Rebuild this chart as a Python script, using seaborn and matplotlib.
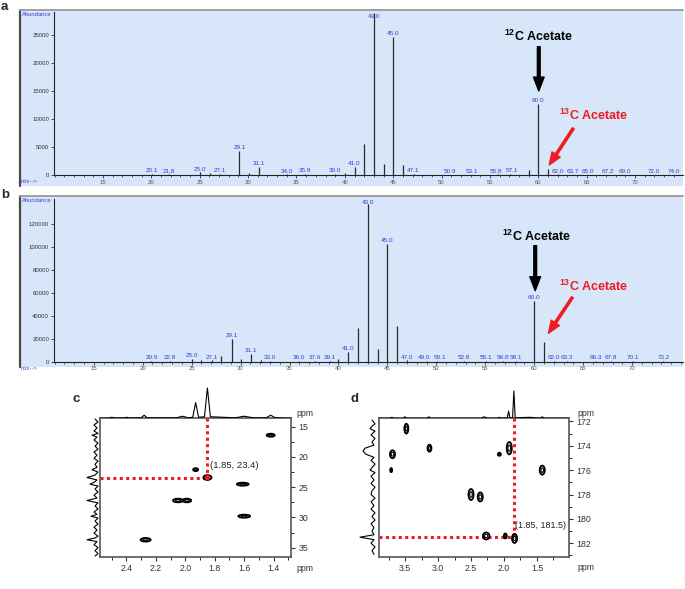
import matplotlib
matplotlib.use("Agg")
import matplotlib.pyplot as plt
import seaborn as sns
import pandas as pd
from matplotlib.patches import Ellipse, Rectangle
from matplotlib.lines import Line2D
from matplotlib.ticker import MultipleLocator, FormatStrFormatter

# ---------------- data ----------------
# Panel a: GC-MS spectrum (m/z, abundance, peak label)
a_mz = [20.1, 21.8, 25.0, 26.1, 27.1, 29.1, 30.1, 31.1, 34.0, 35.9,
        39.0, 40.0, 41.0, 42.0, 43.0, 44.0, 45.0, 46.0, 47.1, 50.9,
        53.1, 55.8, 57.1, 59.0, 60.0, 61.0, 62.0, 63.7, 65.0, 67.2,
        69.0, 72.0, 74.0]
a_ab = [150, 100, 450, 350, 250, 4300, 300, 1450, 100, 120,
        200, 400, 1430, 5540, 28900, 1960, 24640, 1790, 150, 80,
        80, 100, 150, 890, 12680, 1070, 100, 80, 80, 80,
        80, 80, 80]
a_lab = ['20.1', '21.8', '25.0', '', '27.1', '29.1', '', '31.1', '34.0', '35.9',
         '39.0', '', '41.0', '', '43.0', '', '45.0', '', '47.1', '50.9',
         '53.1', '55.8', '57.1', '', '60.0', '', '62.0', '63.7', '65.0', '67.2',
         '69.0', '72.0', '74.0']
a_yticks = [0, 5000, 10000, 15000, 20000, 25000]

# Panel b
b_mz = [20.9, 22.8, 25.0, 26.0, 27.1, 28.0, 29.1, 30.0, 31.1, 32.1,
        33.0, 36.0, 37.6, 39.1, 40.0, 41.0, 42.0, 43.0, 44.0, 45.0,
        46.0, 47.0, 49.0, 50.1, 52.8, 55.1, 56.8, 58.1, 60.0, 61.0,
        62.0, 63.3, 66.3, 67.8, 70.1, 73.2]
b_ab = [500, 500, 2500, 1500, 1000, 4400, 19500, 2000, 7000, 1500,
        600, 600, 400, 600, 2500, 8500, 29000, 138000, 10700, 103000,
        30800, 1000, 400, 400, 400, 400, 400, 400, 53300, 17500,
        600, 400, 400, 400, 400, 400]
b_lab = ['20.9', '22.8', '25.0', '', '27.1', '', '29.1', '', '31.1', '',
         '33.0', '36.0', '37.6', '39.1', '', '41.0', '', '43.0', '', '45.0',
         '', '47.0', '49.0', '50.1', '52.8', '55.1', '56.8', '58.1', '60.0', '',
         '62.0', '63.3', '66.3', '67.8', '70.1', '73.2']
b_yticks = [0, 20000, 40000, 60000, 80000, 100000, 120000]
mz_ticks = [15, 20, 25, 30, 35, 40, 45, 50, 55, 60, 65, 70]

# Panel c: 2D NMR cross peaks (1H ppm, 13C ppm, width, height in ppm)
c_x = [1.42, 1.93, 1.85, 1.61, 2.05, 1.99, 1.60, 2.27]
c_y = [16.4, 22.1, 23.4, 24.5, 27.2, 27.2, 29.8, 33.7]
c_dx = [0.055, 0.034, 0.055, 0.080, 0.068, 0.060, 0.080, 0.068]
c_dy = [0.5, 0.5, 0.8, 0.5, 0.6, 0.6, 0.5, 0.6]
c_cross = (1.85, 23.4)
c_top_ppm = [2.58, 2.52, 2.50, 2.48, 2.42, 2.40, 2.38, 2.30, 2.28, 2.26,
             2.06, 2.02, 1.98, 1.95, 1.93, 1.91, 1.87, 1.85, 1.83, 1.66,
             1.60, 1.54, 1.45, 1.42, 1.39, 1.28]
c_top_int = [0, 0.3, 1, 0.3, 0.3, 1, 0.3, 0.5, 3, 0.5,
             0.5, 2, 0.5, 1, 15, 1, 1.5, 29, 1.5, 0.5,
             2, 0.5, 0.5, 3, 0.5, 0]
c_left_ppm = [13.7, 14.2, 14.7, 15.2, 15.7, 16.1, 16.4, 16.7, 17.2, 17.7,
              18.2, 18.7, 19.2, 19.7, 20.2, 20.7, 21.2, 21.7, 22.1, 22.5,
              23.0, 23.4, 23.8, 24.2, 24.5, 24.8, 25.3, 25.8, 26.3, 26.8,
              27.2, 27.6, 28.1, 28.6, 29.1, 29.5, 29.8, 30.1, 30.6, 31.1,
              31.6, 32.1, 32.6, 33.1, 33.4, 33.7, 34.0, 34.5, 35.0, 35.5,
              36.0, 36.4]
c_left_int = [1, -2, 2, -1, 2, -2, 4, -1, 2, -2,
              1, -2, 2, -1, 2, -2, 1, -1, 4, -2,
              1, 9, -1, 2, 6, -2, 1, -2, 2, -1,
              9, -2, 1, -2, 2, -1, 5, -2, 1, -2,
              2, -1, 2, -2, 1, 9, -1, 2, -2, 1,
              -2, 1]

# Panel d
d_x = [3.48, 3.69, 3.71, 3.13, 1.92, 2.07, 1.42, 2.50, 2.36, 2.27, 1.98, 1.84]
d_y = [172.6, 174.7, 176.0, 174.2, 174.2, 174.7, 176.0, 178.0, 178.2, 181.4, 181.4, 181.6]
d_dx = [0.06, 0.077, 0.03, 0.06, 0.077, 0.046, 0.077, 0.077, 0.077, 0.10, 0.046, 0.077]
d_dy = [0.8, 0.65, 0.33, 0.57, 1.0, 0.25, 0.74, 0.9, 0.74, 0.57, 0.4, 0.74]
d_cross = (1.85, 181.5)
d_top_ppm = [3.89, 3.73, 3.70, 3.67, 3.53, 3.50, 3.47, 3.17, 3.14, 3.11,
             2.35, 2.30, 2.25, 2.10, 2.07, 2.04, 1.95, 1.93, 1.91, 1.87,
             1.85, 1.83, 1.60, 1.45, 1.42, 1.39, 1.01]
d_top_int = [0, 0, 1, 0, 0, 1.5, 0, 0, 1.5, 0,
             0, 1.5, 0, 0, 1, 0, 0.5, 7, 0.5, 0.5,
             27, 0.5, 1, 0, 1.5, 0, 0]
d_left_ppm = [171.9, 172.2, 172.4, 172.6, 172.8, 173.1, 173.4, 173.7, 173.95, 174.2,
              174.45, 174.7, 174.95, 175.2, 175.5, 175.8, 176.0, 176.2, 176.5, 176.8,
              177.1, 177.4, 177.7, 178.0, 178.3, 178.6, 178.9, 179.2, 179.5, 179.8,
              180.1, 180.4, 180.7, 181.0, 181.3, 181.5, 181.7, 182.0, 182.3, 182.6,
              182.9]
d_left_int = [1, -2, 1, 3, -2, 2, -2, 1, -1, 8,
              10, 7, -1, 2, -2, 1, 3, -2, 2, -1,
              2, -2, 1, 2, -2, 2, -1, 2, -2, 1,
              -2, 2, -1, 1, -1, 13, -1, 2, -2, 1,
              -1]

# ---------------- style ----------------
sns.set_theme(style="white")
plt.rcParams['font.family'] = ['Liberation Sans', 'DejaVu Sans']
plt.rcParams['mathtext.fontset'] = 'custom'
plt.rcParams['mathtext.rm'] = 'Liberation Sans:bold'
plt.rcParams['mathtext.bf'] = 'Liberation Sans:bold'
plt.rcParams['mathtext.default'] = 'bf'

BG = '#d8e6f9'
BLUE = '#3c3cd6'
STICK = '#2a2a2a'
RED = '#ee1c24'
W, H = 685, 589
# small horizontal nudges (points) for crowded peak labels
NUDGE = {'49.0': -1.8, '50.1': 1.8, '63.7': -1.2, '65.0': 1.2, '55.8': -1.0, '57.1': 1.0}

fig = plt.figure(figsize=(W / 100, H / 100), dpi=100)


def box(l, t, r, b):
    return [l / W, 1 - b / H, (r - l) / W, (b - t) / H]


def ms_panel(bg, axb, xlim, ylim, yticks, mz, ab, lab):
    l, t, r, b = bg
    fig.add_artist(Rectangle((l / W, 1 - b / H), (r - l) / W, (b - t) / H,
                             transform=fig.transFigure, facecolor=BG,
                             edgecolor='none', zorder=0))
    fig.add_artist(Line2D([l / W] * 2, [1 - b / H, 1 - t / H], color='#4a4a4a', lw=1.6))
    fig.add_artist(Line2D([l / W, r / W], [1 - t / H] * 2, color='#a0a0a0', lw=1.4))
    ax = fig.add_axes(box(*axb))
    ax.set_facecolor('none')
    ax.vlines(mz, 0, ab, color=STICK, lw=0.9)
    top = ylim[1]
    for m, v, s in zip(mz, ab, lab):
        if s:
            ax.annotate(s, (m, min(v, top * 0.955)), xytext=(NUDGE.get(s, 0), 0.6),
                        textcoords='offset points', ha='center', va='bottom',
                        fontsize=4.6, color=BLUE, annotation_clip=True, clip_on=True)
    ax.set_xlim(*xlim)
    ax.set_ylim(*ylim)
    ax.set_yticks(yticks)
    ax.set_yticklabels([str(v) for v in yticks])
    ax.set_xticks(mz_ticks)
    ax.xaxis.set_minor_locator(MultipleLocator(1))
    for s in ['top', 'right']:
        ax.spines[s].set_visible(False)
    for s in ['left', 'bottom']:
        ax.spines[s].set_color('#222222')
        ax.spines[s].set_linewidth(0.8)
    ax.tick_params(axis='both', which='major', labelsize=4.3, colors='#333333',
                   length=2.5, width=0.6, pad=1, direction='out', left=True, bottom=True)
    ax.tick_params(axis='x', which='minor', length=1.5, width=0.5, bottom=True, direction='out')
    ax.tick_params(axis='x', labelcolor='#555555')
    fig.text((l + 1.5) / W, 1 - (t + 4) / H, 'Abundance', fontsize=4.2, color=BLUE, va='center')
    fig.text((l + 1) / W, 1 - (axb[3] + 6.5) / H, 'm/z-->', fontsize=4.2, color=BLUE, va='center')
    return ax


# ---------- panel a ----------
axa = ms_panel((20, 10, 683, 186), (54, 12, 683, 175), (9.93, 74.96), (0, 29100),
               a_yticks, a_mz, a_ab, a_lab)
fig.text(1 / W, 1 - 9.5 / H, 'a', fontsize=9.5, fontweight='bold', va='baseline')
axa.text(60.0, 24700, r'$^{12}$C Acetate', ha='center', va='center',
         fontsize=9, fontweight='bold', color='black')
axa.annotate('', xy=(60.05, 15000), xytext=(60.05, 22900),
             arrowprops=dict(facecolor='black', edgecolor='black', width=2.0,
                             headwidth=7.7, headlength=10, shrink=0))
axa.text(65.7, 10710, r'$^{13}$C Acetate', ha='center', va='center',
         fontsize=9, fontweight='bold', color=RED)
axa.annotate('', xy=(61.13, 1790), xytext=(63.62, 8340),
             arrowprops=dict(facecolor=RED, edgecolor=RED, width=1.6,
                             headwidth=7, headlength=9, shrink=0))

# ---------- panel b ----------
axb_ = ms_panel((20, 196, 683, 367), (54, 199, 683, 361.5), (10.94, 75.2), (0, 142200),
                b_yticks, b_mz, b_ab, b_lab)
fig.text(1 / W, 1 - 198 / H, 'b', fontsize=9.5, fontweight='bold', va='baseline')
axb_.text(60.27, 109800, r'$^{12}$C Acetate', ha='center', va='center',
          fontsize=9, fontweight='bold', color='black')
axb_.annotate('', xy=(60.1, 62000), xytext=(60.1, 101300),
              arrowprops=dict(facecolor='black', edgecolor='black', width=2.0,
                              headwidth=7.7, headlength=10, shrink=0))
axb_.text(66.05, 66050, r'$^{13}$C Acetate', ha='center', va='center',
          fontsize=9, fontweight='bold', color=RED)
axb_.annotate('', xy=(61.45, 24670), xytext=(63.9, 56170),
              arrowprops=dict(facecolor=RED, edgecolor=RED, width=1.6,
                              headwidth=7, headlength=9, shrink=0))


# ---------- NMR panels ----------
def nmr_panel(frame, top_box, left_box, xlim, ylim, left_xlim, top_ylim,
              xs, ys, dxs, dys, cross, top_ppm, top_int, left_ppm, left_int,
              xmaj, xmin, ymaj, ymin, dot, lab_dx, lab_fs):
    ax = fig.add_axes(box(*frame))
    ax.set_xlim(*xlim)
    ax.set_ylim(*ylim)
    # red dotted guide lines
    cx, cy = cross
    ax.plot([xlim[0], cx], [cy, cy], color=RED, lw=2.2, ls=(0, (1, 1.1)),
            dash_capstyle='butt', zorder=3)
    ax.plot([cx, cx], [ylim[1], cy], color=RED, lw=2.2, ls=(0, (1, 1.1)),
            dash_capstyle='butt', zorder=3)
    for x, y, dx, dy in zip(xs, ys, dxs, dys):
        ax.add_patch(Ellipse((x, y), dx, dy, fill=False, ec='black', lw=1.3, zorder=4))
        ax.add_patch(Ellipse((x, y), dx * 0.5, dy * 0.5, fill=False, ec='black', lw=0.8, zorder=4))
    if dot:
        sns.scatterplot(x=[cx], y=[cy], color=RED, s=14, edgecolor='none', ax=ax, zorder=5)
    ax.annotate(f'({cx:.2f}, {cy:.1f})', (cx, cy), xytext=(lab_dx, 8.5),
                textcoords='offset points', ha='left', va='center',
                fontsize=lab_fs, color='#222222', zorder=6)
    ax.xaxis.set_major_locator(MultipleLocator(xmaj))
    ax.xaxis.set_minor_locator(MultipleLocator(xmin))
    ax.xaxis.set_major_formatter(FormatStrFormatter('%.1f'))
    ax.yaxis.set_major_locator(MultipleLocator(ymaj))
    ax.yaxis.set_minor_locator(MultipleLocator(ymin))
    ax.yaxis.tick_right()
    for s in ax.spines.values():
        s.set_color('#555555')
        s.set_linewidth(1.2)
    ax.tick_params(axis='both', which='major', labelsize=6.3, colors='#333333',
                   length=3, width=0.8, pad=2, direction='out')
    ax.tick_params(axis='both', which='minor', length=1.8, width=0.7, direction='out')
    ax.tick_params(axis='x', bottom=True, top=False)
    ax.tick_params(axis='y', right=True, left=False, which='both')
    ax.tick_params(axis='x', bottom=True, which='both')

    # top 1D projection
    axt = fig.add_axes(box(*top_box))
    sns.lineplot(x=top_ppm, y=top_int, sort=False, estimator=None, color='black',
                 lw=0.8, ax=axt)
    axt.set_xlim(*xlim)
    axt.set_ylim(*top_ylim)
    axt.axis('off')

    # left 1D projection
    axl = fig.add_axes(box(*left_box))
    sns.lineplot(x=left_int, y=left_ppm, sort=False, estimator=None, color='black',
                 lw=0.8, ax=axl)
    axl.set_xlim(*left_xlim)
    axl.set_ylim(*ylim)
    axl.axis('off')
    return ax


axc = nmr_panel((100, 418.3, 291.3, 556.7), (100, 387, 291.3, 418.3), (86, 418.3, 100, 556.7),
                (2.58, 1.28), (36.5, 13.6), (10, -4), (0, 30),
                c_x, c_y, c_dx, c_dy, c_cross, c_top_ppm, c_top_int, c_left_ppm, c_left_int,
                0.2, 0.1, 5, 2.5, True, 2, 6.8)
fig.text(72.5 / W, 1 - 402.5 / H, 'c', fontsize=9.5, fontweight='bold', va='baseline')
fig.text(296 / W, 1 - 413 / H, 'ppm', fontsize=6.3, color='#333333', va='center')
fig.text(296 / W, 1 - 568.5 / H, 'ppm', fontsize=6.3, color='#333333', va='center')

axd = nmr_panel((379.3, 418.3, 569.3, 556.7), (379.3, 390, 569.3, 418.3), (357, 418.3, 380, 556.7),
                (3.89, 1.01), (183.1, 171.75), (16, -7), (0, 28),
                d_x, d_y, d_dx, d_dy, d_cross, d_top_ppm, d_top_int, d_left_ppm, d_left_int,
                0.5, 0.25, 2, 1, False, 0.6, 6.5)
fig.text(350.5 / W, 1 - 402.5 / H, 'd', fontsize=9.5, fontweight='bold', va='baseline')
fig.text(577 / W, 1 - 413 / H, 'ppm', fontsize=6.3, color='#333333', va='center')
fig.text(577 / W, 1 - 568 / H, 'ppm', fontsize=6.3, color='#333333', va='center')

fig.savefig('out.png', dpi=100)
